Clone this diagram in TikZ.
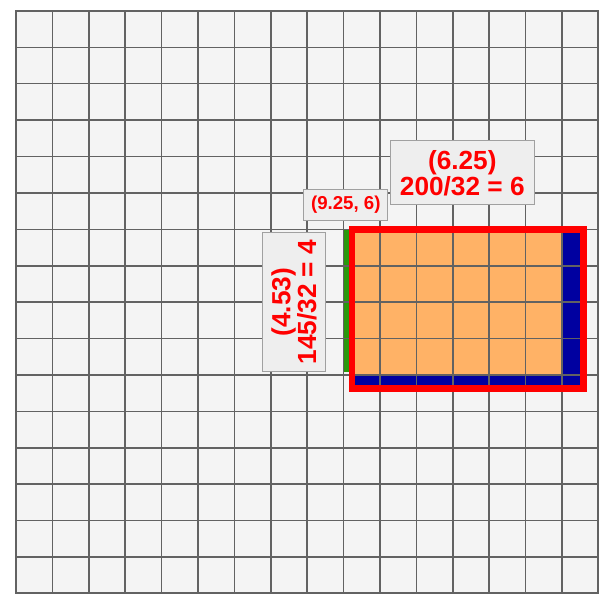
\documentclass[tikz,border=0pt]{standalone}
\usepackage{fontspec}
\setmainfont{Liberation Sans}
\definecolor{cellbg}{HTML}{F4F4F4}
\definecolor{gridln}{HTML}{626262}
\definecolor{orng}{HTML}{FFB266}
\definecolor{navy}{HTML}{0000A0}
\definecolor{grn}{HTML}{2A980C}
\definecolor{lblbg}{HTML}{EEEEEE}
\definecolor{lblbd}{HTML}{A0A0A0}
\tikzset{
  lbl/.style={draw=lblbd, line width=0.8pt, fill=lblbg, text=red, font=\bfseries, inner sep=0pt, align=center},
  gridlines/.style={draw=gridln, line width=1.2pt},
}
\begin{document}
\begin{tikzpicture}[x=1cm,y=-1cm]
\useasboundingbox (-0.44,-0.30) rectangle (16.40,16.33);
\fill[cellbg] (0,0) rectangle (16,16);
% highlighted region
\fill[navy] (9.23,6) rectangle (15.58,10.38);
\fill[orng] (9.23,6) rectangle (15,10);
\fill[grn] (8.98,5.98) rectangle (9.14,9.92);
% grid
\draw[gridlines] (0,0) grid (16,16);
\draw[draw=gridln, line width=1.5pt] (0,0) rectangle (16,16);
% red border
\draw[red, line width=5.3pt] (9.23,6) rectangle (15.58,10.38);
% labels
\node[lbl, minimum width=3.96cm, minimum height=1.76cm, font=\bfseries\fontsize{20.5}{20.2}\selectfont] (w) at (12.26,4.45) {(6.25)\\200/32 = 6};
\node[lbl, minimum width=2.30cm, minimum height=0.865cm, font=\bfseries\fontsize{14.6}{16}\selectfont] (o) at (9.06,5.33) {(9.25, 6)};
\node[lbl, rotate=90, minimum width=3.83cm, minimum height=1.75cm, font=\bfseries\fontsize{20.5}{20.2}\selectfont] (h) at (7.635,8.0) {(4.53)\\145/32 = 4};
\end{tikzpicture}
\end{document}
